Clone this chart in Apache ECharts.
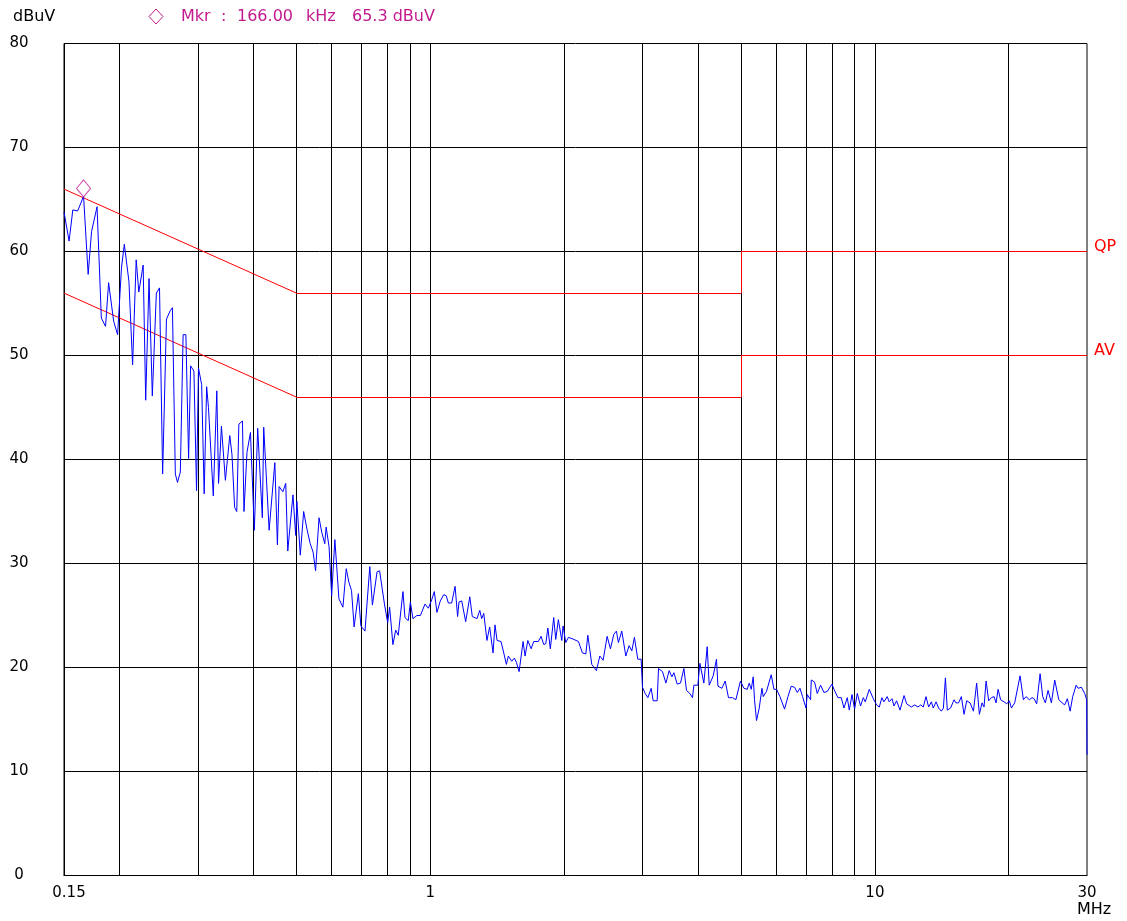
<!DOCTYPE html>
<html>
<head>
<meta charset="utf-8">
<script src="https://cdn.jsdelivr.net/npm/echarts@6/dist/echarts.min.js"></script>
<style>
  html, body { margin: 0; padding: 0; background: #fff; }
  #main { width: 1127px; height: 921px; }
</style>
</head>
<body>
<div id="main"></div>
<script>
// 频谱扫描数据 (MHz / dBuV)
var traceFreq = [
  0.150,0.154,0.157,0.161,0.166,0.170,0.173,0.178,0.182,0.186,0.189,0.194,0.198,0.202,0.205,0.210,0.214,0.218,0.221,0.226,
  0.229,0.233,0.237,0.242,0.246,0.250,0.255,0.260,0.263,0.267,0.270,0.274,0.278,0.282,0.286,0.289,0.294,0.298,0.301,0.306,
  0.310,0.314,0.317,0.325,0.331,0.334,0.339,0.346,
  0.354,0.358,0.363,0.367,0.371,0.378,0.381,0.387,0.394,0.402,0.409,0.419,0.422,0.434,0.447,0.453,0.457,0.466,0.473,0.478,
  0.491,0.498,0.501,0.510,0.519,0.528,0.537,0.545,0.552,0.562,0.570,0.579,0.583,0.592,0.600,0.610,0.623,0.636,0.647,0.656,
  0.665,0.674,0.689,0.698,0.713,0.731,0.741,0.759,0.769,0.788,0.802,0.810,0.824,0.836,0.847,
  0.868,0.877,0.892,0.902,0.914,0.933,0.950,0.973,0.990,1.007,1.021,1.035,1.053,1.072,1.086,1.098,1.117,1.137,1.152,1.160,
  1.177,1.201,1.227,1.243,1.274,1.292,1.305,1.319,1.341,1.360,1.384,1.398,1.413,1.442,1.463,1.483,1.498,1.525,1.546,1.562,
  1.584,1.617,1.634,1.657,1.686,1.709,1.750,1.775,1.800,1.819,1.838,1.862,1.895,1.915,1.941,1.976,1.989,2.017,2.045,
  2.103,2.154,2.199,2.238,2.261,2.308,2.364,2.406,2.448,2.499,2.542,2.587,2.622,2.649,2.696,2.753,2.800,2.840,2.878,2.929,
  2.980,3.001,3.043,3.086,3.139,3.172,3.238,3.261,3.329,3.388,3.446,3.495,3.531,3.592,3.654,3.719,3.769,3.836,3.888,3.916,
  3.998,4.040,4.124,4.196,4.240,4.329,4.403,4.436,4.528,4.606,4.685,4.783,4.868,
  4.985,5.075,5.162,5.216,5.271,5.325,5.361,5.417,5.494,5.571,5.609,5.705,5.846,5.929,6.010,6.116,6.264,6.375,6.484,6.597,
  6.689,6.783,6.876,6.998,7.045,7.167,7.193,7.317,7.420,7.548,7.682,7.815,8.007,8.091,8.260,8.402,8.521,8.668,8.759,8.882,
  9.002,9.129,9.286,9.417,9.515,9.714,9.917,10.09,10.23,10.37,10.48,10.66,10.77,10.93,11.04,11.19,11.39,11.63,11.79,
  12.08,12.29,12.50,12.68,12.85,13.03,13.21,13.40,13.53,13.73,13.91,14.11,14.26,14.41,14.55,14.80,15.07,15.22,15.43,15.65,
  15.87,16.09,16.37,16.66,16.94,17.18,17.42,17.60,17.79,18.03,18.28,18.54,18.73,18.93,19.18,19.53,19.79,20.07,20.28,20.63,
  21.21,21.58,21.88,22.26,22.57,22.81,23.12,23.53,23.85,24.18,24.52,24.95,25.38,25.92,26.38,26.73,27.10,27.49,27.86,28.36,
  28.65,29.15,29.65,29.95,30.0
];
var traceLevel = [
  63.8,61.0,64.0,63.9,65.3,57.8,61.9,64.3,53.6,52.8,57.0,53.3,52.0,58.4,60.7,57.1,49.1,59.2,56.1,58.7,
  45.7,57.4,46.1,56.0,56.5,38.6,53.5,54.3,54.6,38.6,37.8,38.8,52.0,52.0,40.1,49.0,48.5,37.0,48.8,47.2,
  36.7,47.0,45.0,36.5,46.6,37.7,43.2,38.0,
  42.3,40.5,35.4,35.0,43.4,43.7,35.0,40.7,42.6,33.2,43.0,34.4,43.1,33.2,39.7,31.8,37.4,36.9,37.7,31.2,
  36.6,32.7,36.0,30.8,35.0,33.3,31.9,31.1,29.3,34.4,33.0,31.9,33.5,31.6,26.9,32.3,26.6,25.8,29.5,28.2,
  27.4,23.9,27.1,24.0,23.5,29.7,26.0,29.2,29.3,26.2,24.3,25.8,22.2,23.6,23.1,
  27.3,24.8,24.5,26.3,24.7,25.0,25.0,26.1,25.7,26.5,27.3,25.3,26.4,27.0,26.9,26.2,26.2,27.8,24.9,26.3,
  26.4,24.4,26.8,24.9,24.7,25.5,24.7,25.2,22.6,23.9,21.4,24.1,22.6,22.5,21.4,20.3,21.1,20.6,20.9,20.5,
  19.6,22.5,21.1,22.6,21.8,22.5,22.5,23.0,22.2,22.3,23.8,21.8,24.8,22.7,24.6,22.6,24.0,22.4,22.9,
  22.7,22.5,21.4,21.3,23.1,20.3,19.7,21.1,20.7,23.0,21.8,23.2,23.5,22.4,23.5,21.1,22.1,21.6,22.9,20.8,
  20.8,18.1,17.5,17.1,18.0,16.8,16.8,19.9,19.6,18.5,19.7,19.1,19.5,18.4,18.5,19.9,17.8,17.5,17.1,18.3,
  18.3,20.4,18.5,22.0,18.3,19.2,20.8,18.2,18.0,18.7,17.1,17.1,16.9,
  18.7,18.0,17.9,18.5,17.9,19.1,16.9,14.9,16.1,18.0,17.2,17.7,19.3,17.9,17.9,17.2,16.0,17.2,18.2,18.1,
  17.6,18.0,17.2,16.1,17.4,16.9,18.8,18.6,17.5,18.3,17.6,17.7,18.4,17.9,17.1,17.1,16.1,17.1,15.9,17.4,
  16.0,17.5,16.3,17.1,16.7,17.9,17.0,16.4,16.2,17.1,16.7,17.2,16.7,17.0,16.3,16.8,15.9,17.3,16.5,
  16.2,16.4,16.2,16.4,16.2,17.2,16.2,16.7,16.1,16.7,16.1,15.8,16.1,19.0,15.9,16.1,16.9,16.6,16.6,17.2,
  15.5,16.8,16.6,15.8,18.5,15.5,16.6,16.2,18.7,16.8,17.1,17.2,16.6,17.9,16.9,16.7,16.5,16.8,16.1,16.6,
  19.2,16.9,17.2,16.9,17.1,17.0,16.5,19.4,17.2,16.6,17.8,16.6,18.8,16.9,16.6,16.4,17.0,15.8,17.2,18.3,
  18.0,18.1,17.5,16.9,11.6
];

// 限值线
var qpFreq = [0.15, 0.5, 5, 5, 30];
var qpLevel = [66, 56, 56, 60, 60];
var avFreq = [0.15, 0.5, 5, 5, 30];
var avLevel = [56, 46, 46, 50, 50];

// 标记点
var markerFreq = [0.166];
var markerLevel = [65.3];

// 网格和刻度
var gridFreqs = [0.2, 0.3, 0.4, 0.5, 0.6, 0.7, 0.8, 0.9, 1, 2, 3, 4, 5, 6, 7, 8, 9, 10, 20];
var gridLevels = [10, 20, 30, 40, 50, 60, 70];
var xLabelFreqs = [0.15, 1, 10, 30];
var xMin = 0.15, xMax = 30;
var yMin = 0, yMax = 80, yStep = 10;

function pairs(xs, ys) {
  return xs.map(function (x, i) { return [x, ys[i]]; });
}

(function () {
  var chart = echarts.init(document.getElementById('main'));
  var font = 'DejaVu Sans, Verdana, sans-serif';
  var mkrColor = '#c21a8e';
  var limitColor = '#ff0000';
  var hdr = '16px ' + font;

  // 黑色网格线
  var gridLines = gridFreqs.map(function (f) { return { xAxis: f }; })
    .concat(gridLevels.map(function (v) { return { yAxis: v }; }));

  // 红色限值线: 分段画，排在网格线之后，盖住同一行的黑线
  function limitSegments(xs, ys, name) {
    var segs = [];
    for (var i = 0; i < xs.length - 1; i++) {
      var last = i === xs.length - 2;
      segs.push([
        {
          coord: [xs[i], ys[i]],
          lineStyle: { color: limitColor, width: 1, type: 'solid' },
          label: last ? {
            show: true, position: 'end', distance: 7,
            formatter: '{t|' + name + '}',
            rich: { t: { color: limitColor, fontSize: 16, fontFamily: font, padding: [0, 0, 9, 0] } }
          } : { show: false }
        },
        { coord: [xs[i + 1], ys[i + 1]] }
      ]);
    }
    return segs;
  }

  var option = {
    animation: false,
    backgroundColor: '#fff',
    textStyle: { fontFamily: font },
    // 高度 832：每 10 dB 104 像素，线条落在整像素上
    grid: {
      left: 64, right: 40, top: 43.5, bottom: 45.5,
      show: true, borderColor: '#000', borderWidth: 1
    },
    xAxis: {
      type: 'log',
      logBase: 10,
      min: xMin,
      max: xMax,
      axisLine: { show: true, lineStyle: { color: '#000', width: 1 } },
      axisTick: { show: false },
      splitLine: { show: false },
      axisLabel: {
        customValues: xLabelFreqs,
        color: '#000',
        fontSize: 15,
        fontFamily: font,
        margin: 10,
        formatter: function (v) {
          var s = String(+(+v).toPrecision(3));
          return s === '0.15' ? '{first|' + s + '}' : s;
        },
        rich: { first: { fontSize: 15, fontFamily: font, color: '#000', padding: [0, 0, 0, 10] } }
      }
    },
    yAxis: {
      type: 'value',
      min: yMin,
      max: yMax,
      interval: yStep,
      axisLine: { show: true, lineStyle: { color: '#000', width: 1 } },
      axisTick: { show: false },
      splitLine: { show: false },
      axisLabel: { color: '#000', fontSize: 15, fontFamily: font, margin: 45, align: 'center' }
    },
    graphic: [
      { type: 'text', left: 13, top: 9, style: { text: 'dBuV', fill: '#000', font: hdr } },
      {
        type: 'polygon',
        shape: { points: [[156, 9], [163, 16.5], [156, 24], [149, 16.5]] },
        style: { fill: 'none', stroke: mkrColor, lineWidth: 1 }
      },
      { type: 'text', left: 181, top: 9, style: { text: 'Mkr', fill: mkrColor, font: hdr } },
      { type: 'text', left: 221, top: 9, style: { text: ':', fill: mkrColor, font: hdr } },
      { type: 'text', left: 237, top: 9, style: { text: '166.00', fill: mkrColor, font: hdr } },
      { type: 'text', left: 306, top: 9, style: { text: 'kHz', fill: mkrColor, font: hdr } },
      { type: 'text', left: 352, top: 9, style: { text: '65.3 dBuV', fill: mkrColor, font: hdr } },
      { type: 'text', left: 1077, top: 902, style: { text: 'MHz', fill: '#000', font: hdr } }
    ],
    series: [
      {
        // 网格线 + 限值线
        type: 'line',
        data: [],
        silent: true,
        z: 1,
        markLine: {
          silent: true,
          symbol: ['none', 'none'],
          label: { show: false },
          lineStyle: { color: '#000', type: 'solid', width: 1 },
          emphasis: { disabled: true },
          data: gridLines
            .concat(limitSegments(qpFreq, qpLevel, 'QP'))
            .concat(limitSegments(avFreq, avLevel, 'AV'))
        }
      },
      {
        name: 'Trace',
        type: 'line',
        data: pairs(traceFreq, traceLevel),
        showSymbol: false,
        silent: true,
        z: 5,
        lineStyle: { color: '#0000ff', width: 1 }
      },
      {
        name: 'Mkr',
        type: 'scatter',
        data: pairs(markerFreq, markerLevel),
        symbol: 'diamond',
        symbolSize: [14, 17],
        symbolOffset: [0, -8],
        silent: true,
        z: 7,
        itemStyle: { color: 'none', borderColor: mkrColor, borderWidth: 1 }
      }
    ]
  };
  chart.setOption(option);
})();
</script>
</body>
</html>
